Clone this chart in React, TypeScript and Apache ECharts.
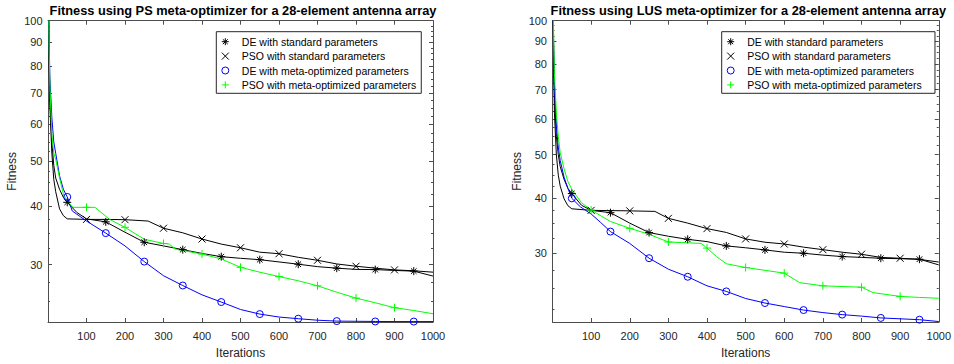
import React, { useEffect, useRef } from "react";
import * as echarts from "echarts";

// ---------- data ----------
const TITLES = [
  "Fitness using PS meta-optimizer for a 28-element antenna array",
  "Fitness using LUS meta-optimizer for a 28-element antenna array",
];
const SERIES_NAMES = [
  "DE with standard parameters",
  "PSO with standard parameters",
  "DE with meta-optimized parameters",
  "PSO with meta-optimized parameters",
];
const X_TICKS = [100, 200, 300, 400, 500, 600, 700, 800, 900, 1000];
const Y_MAJOR = [30, 40, 50, 60, 70, 80, 90, 100];
const Y_MINOR = [22.5, 25, 27.5, 32.5, 35, 37.5, 42.5, 45, 47.5, 52.5, 55, 57.5, 62.5, 65, 67.5, 72.5, 75, 77.5, 82.5, 85, 87.5, 92.5, 95, 97.5];
const DE_MARKS = [50, 150, 250, 350, 450, 550, 650, 750, 850, 950];
const PSO_MARKS = [100, 200, 300, 400, 500, 600, 700, 800, 900];
const Y_MIN = [22.6, 21.05];

// Left panel (PS meta-optimizer)
const L_DE_STD_X = [1, 3, 5, 10, 15, 20, 30, 40, 50, 75, 100, 150, 200, 250, 300, 350, 400, 450, 500, 550, 600, 650, 700, 750, 800, 850, 900, 950, 1000];
const L_DE_STD_Y = [118, 85, 68, 55, 49, 46, 43.5, 41.8, 40.8, 38.8, 37.6, 37.05, 35.2, 33.5, 32.9, 32.3, 31.7, 31.2, 30.95, 30.74, 30.4, 30.06, 29.7, 29.48, 29.3, 29.27, 29.15, 29.05, 28.35];
const L_PSO_STD_X = [1, 3, 5, 10, 15, 20, 30, 40, 50, 100, 150, 200, 260, 300, 350, 400, 450, 500, 550, 600, 650, 700, 750, 800, 850, 900, 950, 1000];
const L_PSO_STD_Y = [115, 80, 65, 52, 45.7, 43, 39.5, 38.2, 37.6, 37.5, 37.5, 37.45, 37.2, 35.9, 35.1, 34.04, 33.2, 32.6, 31.9, 31.66, 31.1, 30.65, 30.1, 29.76, 29.48, 29.23, 29.1, 28.9];
const L_DE_META_X = [1, 3, 5, 10, 15, 20, 30, 40, 50, 63, 100, 150, 200, 250, 300, 350, 400, 450, 500, 550, 600, 650, 700, 750, 800, 850, 900, 950, 1000];
const L_DE_META_Y = [125, 90, 75, 62, 55, 52, 46.5, 43.5, 41.9, 39.1, 37.2, 35.05, 32.9, 30.45, 28.4, 27.06, 25.84, 24.94, 24.04, 23.5, 23.16, 22.97, 22.8, 22.7, 22.68, 22.66, 22.65, 22.65, 22.65];
const L_PSO_META_X = [1, 3, 5, 10, 15, 20, 30, 40, 50, 65, 100, 122, 160, 200, 250, 300, 315, 330, 400, 450, 500, 550, 600, 650, 700, 750, 800, 850, 900, 950, 1000];
const L_PSO_META_Y = [125, 88, 72, 57, 52, 50.5, 46, 42.5, 41, 39.8, 39.8, 39.8, 37.5, 36.06, 34.0, 33.3, 33.2, 32.4, 31.6, 30.85, 29.6, 28.9, 28.28, 27.7, 27.02, 26.18, 25.43, 24.85, 24.25, 23.92, 23.54];

// Right panel (LUS meta-optimizer)
const R_DE_STD_X = [1, 3, 5, 10, 15, 20, 30, 40, 50, 75, 100, 150, 200, 250, 300, 350, 400, 450, 500, 550, 600, 650, 700, 750, 800, 850, 900, 950, 1000];
const R_DE_STD_Y = [120, 85, 68, 55, 50, 47, 44, 42, 40.9, 38.5, 37.5, 37.05, 35.1, 33.43, 32.8, 32.28, 31.9, 31.2, 30.9, 30.56, 30.2, 30.04, 29.75, 29.53, 29.4, 29.27, 29.2, 29.13, 28.28];
const R_PSO_STD_X = [1, 3, 5, 10, 15, 20, 30, 40, 50, 100, 150, 200, 265, 300, 350, 400, 450, 500, 550, 600, 650, 700, 750, 800, 850, 900, 950, 1000];
const R_PSO_STD_Y = [115, 78, 62, 50, 45, 42.5, 39.8, 38.4, 37.8, 37.5, 37.45, 37.4, 37.3, 35.98, 35.1, 34.12, 33.45, 32.35, 31.8, 31.51, 31.0, 30.6, 30.2, 29.88, 29.4, 29.27, 29.1, 28.7];
const R_DE_META_X = [1, 3, 5, 10, 15, 20, 30, 40, 50, 72, 100, 125, 150, 200, 250, 300, 350, 400, 450, 500, 550, 600, 650, 700, 750, 800, 850, 900, 950, 1000];
const R_DE_META_Y = [125, 88, 72, 58, 52, 48.5, 44.5, 42, 39.9, 38.2, 36.8, 35.2, 33.6, 31.6, 29.28, 27.66, 26.6, 25.38, 24.66, 23.77, 23.22, 22.8, 22.39, 22.1, 21.87, 21.7, 21.5, 21.4, 21.3, 21.1];
const R_PSO_META_X = [1, 3, 5, 10, 15, 20, 30, 40, 50, 75, 100, 150, 200, 250, 300, 350, 385, 400, 425, 450, 500, 550, 600, 640, 700, 800, 830, 900, 950, 1000];
const R_PSO_META_Y = [125, 92, 76, 62, 55, 50.5, 46.5, 43.5, 41.8, 39.0, 37.55, 35.4, 34.17, 33.13, 31.84, 31.7, 31.6, 30.85, 29.5, 28.45, 27.9, 27.5, 27.1, 25.8, 25.38, 25.2, 24.5, 24.03, 23.9, 23.8];

// ---------- styling ----------
const FONT = "'Liberation Sans', Arial, Helvetica, sans-serif";
const AXIS_COLOR = "#4d4d4d";
const TEXT_COLOR = "#262626";
const COLORS = ["#000000", "#000000", "#0000ff", "#00ff00"];
const SYMBOLS = [
  "path://M5 0L5 10M0 5L10 5M1.5 1.5L8.5 8.5M1.5 8.5L8.5 1.5",
  "path://M0 0L10 10M0 10L10 0",
  "path://M10 5A5 5 0 1 1 0 5A5 5 0 1 1 10 5Z",
  "path://M5 0L5 10M0 5L10 5",
];
const SYMBOL_SIZES = [8, 7, 7, 8];

const PANELS = [
  { gridLeft: 48, gridWidth: 385, titleX: 243, legendLeft: 216.3, legendPadRight: 5 },
  { gridLeft: 552.5, gridWidth: 386.8, titleX: 748.3, legendLeft: 721.7, legendPadRight: 13.3 },
];

function makeSeries(g: number, k: number, xs: number[], ys: number[], marks: number[]) {
  const set = new Set(marks);
  const sym = SYMBOLS[k];
  return {
    type: "line",
    name: SERIES_NAMES[k],
    xAxisIndex: g * 2,
    yAxisIndex: g * 4,
    data: xs.map((x, i) => [x, ys[i]]),
    showSymbol: true,
    showAllSymbol: true,
    symbol: (v: number[]) => (set.has(v[0]) ? sym : "none"),
    symbolSize: SYMBOL_SIZES[k],
    itemStyle: { color: "rgba(0,0,0,0)", borderColor: COLORS[k], borderWidth: 1 },
    lineStyle: { color: COLORS[k], width: 1 },
    emphasis: { disabled: true },
    silent: true,
  };
}

function xAxes(g: number) {
  const base: any = {
    type: "value",
    gridIndex: g,
    min: 0,
    max: 1000,
    interval: 100,
    splitLine: { show: false },
    axisLine: { onZero: false, lineStyle: { color: AXIS_COLOR, width: 1 } },
    axisTick: { inside: true, length: 4, customValues: X_TICKS, lineStyle: { color: AXIS_COLOR } },
  };
  return [
    {
      ...base,
      position: "bottom",
      axisLabel: {
        customValues: X_TICKS,
        formatter: (v: number) => String(Math.round(v)),
        color: TEXT_COLOR,
        fontSize: 11,
        fontFamily: FONT,
        margin: 8,
      },
      name: "Iterations",
      nameLocation: "middle",
      nameGap: 25,
      nameTextStyle: { color: TEXT_COLOR, fontSize: 12, fontFamily: FONT },
    },
    { ...base, position: "top", axisLabel: { show: false } },
  ];
}

function yAxes(g: number) {
  const base: any = {
    type: "log",
    logBase: 10,
    gridIndex: g,
    min: Y_MIN[g],
    max: 100,
    splitLine: { show: false },
    axisLine: { onZero: false, lineStyle: { color: AXIS_COLOR, width: 1 } },
  };
  const major = { inside: true, length: 4, customValues: Y_MAJOR, lineStyle: { color: AXIS_COLOR } };
  const minor = { inside: true, length: 2, customValues: Y_MINOR, lineStyle: { color: AXIS_COLOR } };
  return [
    {
      ...base,
      position: "left",
      axisTick: major,
      axisLabel: {
        customValues: Y_MAJOR,
        formatter: (v: number) => String(Math.round(v)),
        color: TEXT_COLOR,
        fontSize: 11,
        fontFamily: FONT,
        margin: 5.5,
      },
      name: "Fitness",
      nameLocation: "middle",
      nameGap: 30,
      nameTextStyle: { color: TEXT_COLOR, fontSize: 12, fontFamily: FONT },
    },
    { ...base, position: "left", axisLine: { show: false, onZero: false }, axisTick: minor, axisLabel: { show: false } },
    { ...base, position: "right", axisTick: major, axisLabel: { show: false } },
    { ...base, position: "right", axisLine: { show: false, onZero: false }, axisTick: minor, axisLabel: { show: false } },
  ];
}

function legend(g: number) {
  return {
    orient: "vertical",
    left: PANELS[g].legendLeft,
    top: 31.7,
    padding: [2.8, PANELS[g].legendPadRight, 1.2, 5],
    itemWidth: 23,
    itemHeight: 7,
    itemGap: 0,
    borderColor: "#262626",
    borderWidth: 1,
    backgroundColor: "#ffffff",
    selectedMode: false,
    textStyle: { fontSize: 10.5, lineHeight: 14.4, color: "#000", fontFamily: FONT },
    data: SERIES_NAMES.map((name, k) => ({
      name,
      icon: SYMBOLS[k],
      itemStyle: { color: "rgba(0,0,0,0)", borderColor: COLORS[k], borderWidth: 1 },
    })),
  };
}

export default function App() {
  const ref = useRef<HTMLDivElement>(null);
  useEffect(() => {
    if (!ref.current) return;
    const chart = echarts.init(ref.current, undefined, { renderer: "svg" });
    const series = [
      makeSeries(0, 0, L_DE_STD_X, L_DE_STD_Y, DE_MARKS),
      makeSeries(0, 1, L_PSO_STD_X, L_PSO_STD_Y, PSO_MARKS),
      makeSeries(0, 2, L_DE_META_X, L_DE_META_Y, DE_MARKS),
      makeSeries(0, 3, L_PSO_META_X, L_PSO_META_Y, PSO_MARKS),
      makeSeries(1, 0, R_DE_STD_X, R_DE_STD_Y, DE_MARKS),
      makeSeries(1, 1, R_PSO_STD_X, R_PSO_STD_Y, PSO_MARKS),
      makeSeries(1, 2, R_DE_META_X, R_DE_META_Y, DE_MARKS),
      makeSeries(1, 3, R_PSO_META_X, R_PSO_META_Y, PSO_MARKS),
    ];
    chart.setOption({
      animation: false,
      backgroundColor: "#ffffff",
      title: PANELS.map((p, g) => ({
        text: TITLES[g],
        left: p.titleX,
        top: 4,
        textAlign: "center",
        padding: 0,
        textStyle: { fontSize: 12.8, fontWeight: "bold", color: "#000", fontFamily: FONT },
      })),
      grid: PANELS.map((p) => ({ left: p.gridLeft, width: p.gridWidth, top: 20.7, height: 302, containLabel: false })),
      xAxis: [...xAxes(0), ...xAxes(1)],
      yAxis: [...yAxes(0), ...yAxes(1)],
      legend: [legend(0), legend(1)],
      series,
    } as any);
    return () => chart.dispose();
  }, []);
  return <div ref={ref} style={{ position: "fixed", left: 0, top: 0, width: 954, height: 364 }} />;
}
